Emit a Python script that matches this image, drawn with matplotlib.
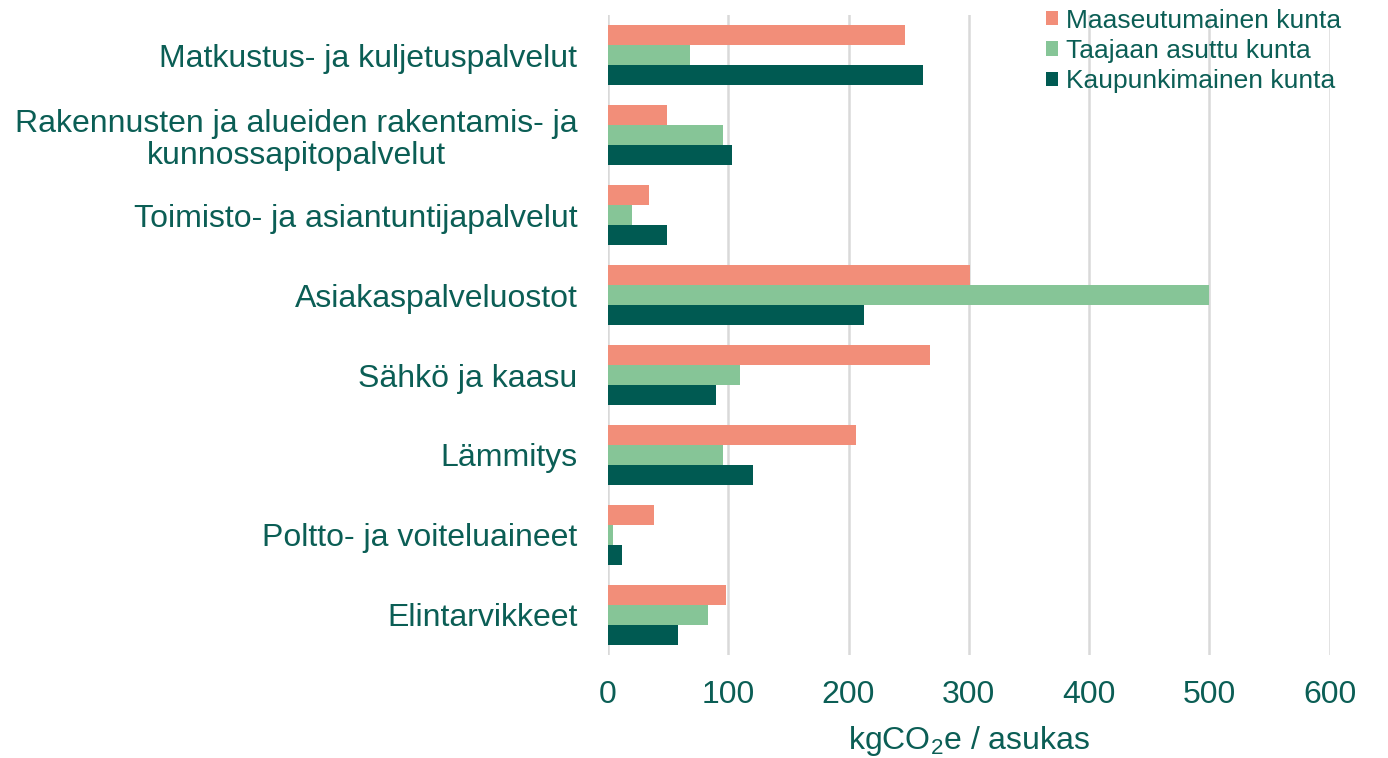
import matplotlib.pyplot as plt
import numpy as np

plt.rcParams['font.family'] = ['Liberation Sans', 'DejaVu Sans']

categories = ['Matkustus- ja kuljetuspalvelut',
              'Rakennusten ja alueiden rakentamis- ja\nkunnossapitopalvelut',
              'Toimisto- ja asiantuntijapalvelut',
              'Asiakaspalveluostot',
              'Sähkö ja kaasu',
              'Lämmitys',
              'Poltto- ja voiteluaineet',
              'Elintarvikkeet']
maaseutu = [247, 49, 34, 301, 268, 206, 38, 98]
taajaan = [68, 96, 20, 500, 110, 96, 4, 83]
kaupunki = [262, 103, 49, 213, 90, 121, 12, 58]
series_names = ['Maaseutumainen kunta', 'Taajaan asuttu kunta', 'Kaupunkimainen kunta']
colors = ['#F28E79', '#86C597', '#005A52']
text_color = '#0B5E55'

fig = plt.figure(figsize=(13.88, 7.58), dpi=100)
ax = fig.add_axes([0.438, 0.136, 0.52, 0.844])

y = np.arange(len(categories))
h = 0.25
for i, (vals, name, c) in enumerate(zip([maaseutu, taajaan, kaupunki], series_names, colors)):
    ax.barh(y + (i - 1) * h, vals, height=h, color=c, label=name, zorder=3)

ax.set_ylim(len(categories) - 0.5, -0.5)
ax.set_xlim(0, 600)
ax.set_xticks(range(0, 601, 100))
ax.set_yticks(y)
ax.set_yticklabels(categories, fontsize=23, color=text_color, ha='right',
                   multialignment='center', linespacing=1.1)
ax.tick_params(axis='x', labelsize=23, labelcolor=text_color, length=0, pad=18)
ax.tick_params(axis='y', length=0, pad=22)
ax.grid(axis='x', color='#D9D9D9', linewidth=1.8, zorder=0)
for s in ['top', 'right', 'bottom', 'left']:
    ax.spines[s].set_visible(False)
ax.set_xlabel('kgCO$_\\mathregular{2}$e / asukas', fontsize=23, color=text_color, labelpad=10)

leg = fig.legend(loc='upper right', bbox_to_anchor=(0.983, 1.02), frameon=False,
                 fontsize=19, handlelength=0.45, handleheight=0.45, handletextpad=0.3,
                 labelspacing=0.24, labelcolor=text_color)

fig.savefig('out.png', dpi=100)
